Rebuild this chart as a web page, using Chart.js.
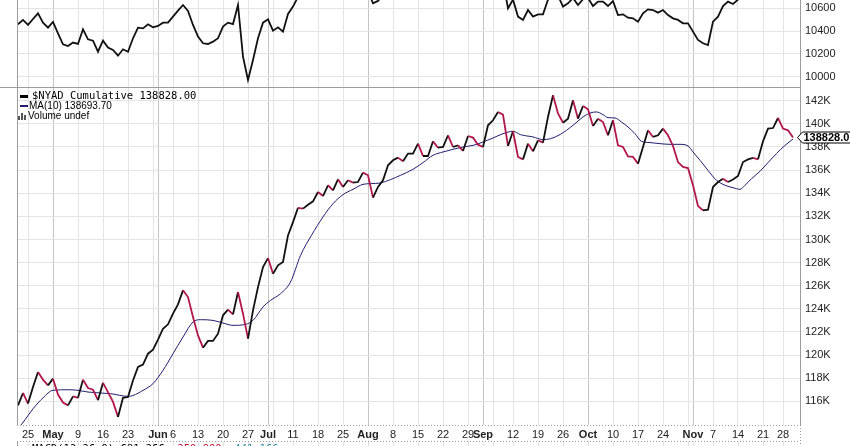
<!DOCTYPE html>
<html>
<head>
<meta charset="utf-8">
<title>$NYAD Cumulative</title>
<script src="https://cdn.jsdelivr.net/npm/chart.js@4.4.0/dist/chart.umd.min.js"></script>
<style>
  html, body { margin: 0; padding: 0; background: #fff; }
  #wrap { position: relative; width: 850px; height: 446px; overflow: hidden; }
  #chart { position: absolute; left: 0; top: 0; }
  .legend { position: absolute; left: 20px; white-space: nowrap; color: #000; }
  .mono { font-family: 'DejaVu Sans Mono', monospace; font-size: 10.5px; line-height: 12px; }
  .sans { font-family: 'Liberation Sans', Arial, sans-serif; font-size: 10px; line-height: 11px; }
  .mark { display: inline-block; width: 8px; vertical-align: middle; }
  .bars { display: inline-block; width: 9px; height: 7px; margin-left: -2px; margin-right: 1px; position: relative; vertical-align: -1px; }
  .bars i { position: absolute; bottom: 0; width: 2px; background: #555; }
</style>
</head>
<body>
<div id="wrap">
  <canvas id="chart" width="850" height="446"></canvas>
  <div class="legend mono" style="top:89px"><span class="mark" style="background:#000;height:3px;margin-right:4px"></span>$NYAD Cumulative 138828.00</div>
  <div class="legend sans" style="top:99.5px"><span class="mark" style="background:#1f1f70;height:2px;margin-right:1px"></span>MA(10) 138693.70</div>
  <div class="legend sans" style="top:110px"><span class="bars"><i style="left:0;height:4px"></i><i style="left:3px;height:7px"></i><i style="left:6px;height:5px"></i></span>Volume undef</div>
  <div class="legend mono" style="top:442px;left:17px"><span class="mark" style="background:#000;height:3px;margin-right:7px"></span>MACD(12,26,9) 681.266, <span style="color:#c0102a">259.900</span>, <span style="color:#3a8fa3">441.166</span></div>
</div>
<script>
// trading-day index: 0 = Apr 25, one step per session
var firstDay = -2;

// upper panel (price), one value per session
var priceValues = [
  10460, 10498, 10454, 10506, 10556, 10474, 10430, 10480, 10380, 10284,
  10269, 10299, 10287, 10416, 10328, 10316, 10219, 10316, 10255, 10234,
  10184, 10240, 10219, 10337, 10430, 10424, 10460, 10433, 10445, 10474,
  10474, 10527, 10580, 10629, 10577, 10454, 10351, 10293, 10287, 10307,
  10337, 10439, 10474, 10462, 10629, 10176, 9971, 10146, 10337, 10474,
  10503, 10404, 10433, 10395, 10550, 10615, 10700, 10710, 10730, 10750,
  10790, 10770, 10810, 10790, 10830, 10800, 10830, 10810, 10790, 10800,
  10750, 10644, 10665, 10720, 10790, 10810, 10820, 10800, 10830, 10830,
  10860, 10820, 10820, 10860, 10840, 10840, 10870, 10830, 10840, 10820,
  10860, 10850, 10830, 10820, 10850, 10870, 10880, 10840, 10600, 10676,
  10527, 10498, 10585, 10527, 10547, 10547, 10676, 10760, 10712, 10615,
  10644, 10690, 10629, 10680, 10690, 10620, 10659, 10659, 10620, 10664,
  10541, 10547, 10518, 10512, 10483, 10556, 10591, 10585, 10562, 10585,
  10541, 10512, 10498, 10468, 10468, 10395, 10322, 10293, 10278, 10483,
  10527, 10620, 10659, 10638, 10676, 10720, 10730, 10735, 10730, 10780,
  10820, 10825, 10850, 10820, 10815, 10795
];

// $NYAD cumulative, thousands
var nyadValues = [
  115.65, 116.72, 115.8, 117.24, 118.54, 117.87, 117.38, 117.96, 116.58, 115.9,
  115.65, 116.43, 116.3, 117.87, 117.15, 117.0, 116.1, 117.6, 116.8, 115.95,
  114.65, 116.3, 116.37, 117.8, 118.97, 119.17, 120.12, 120.47, 121.33, 122.28,
  122.66, 123.58, 124.39, 125.6, 125.02, 123.29, 121.7, 120.64, 121.22, 121.22,
  121.85, 123.44, 123.93, 123.52, 125.45, 123.58, 121.42, 123.87, 125.88, 127.61,
  128.39, 127.04, 127.76, 128.05, 130.35, 131.5, 132.74, 132.67, 133.01, 133.3,
  134.11, 133.76, 134.69, 134.25, 135.2, 134.54, 135.12, 134.92, 134.97, 135.78,
  135.55, 133.62, 134.54, 135.12, 136.42, 136.85, 137.08, 136.76, 137.43, 137.43,
  138.29, 137.22, 137.22, 138.49, 137.94, 138.0, 139.01, 138.0, 138.14, 137.66,
  138.95, 138.81, 138.2, 138.0, 139.88, 140.31, 141.03, 140.8, 138.09, 139.36,
  137.14, 136.93, 138.29, 137.63, 138.58, 138.38, 140.6, 142.47, 140.9, 140.1,
  140.45, 142.04, 140.45, 141.55, 141.26, 139.82, 140.45, 140.16, 139.01, 140.31,
  138.14, 138.0, 137.19, 137.14, 136.56, 138.0, 139.44, 138.87, 139.01, 139.59,
  139.01, 138.09, 136.7, 136.27, 136.18, 134.69, 132.9, 132.52, 132.58, 134.54,
  134.97, 135.26, 134.97, 135.18, 135.49, 136.7, 136.93, 137.05, 136.93, 138.49,
  139.59, 139.64, 140.51, 139.59, 139.44, 138.828
];

// MA(10) at these sessions
var maDays = [
  -2, -0.6, 1, 3, 5, 8, 10, 12, 16.5, 20,
  21, 23, 25, 27, 29, 31, 33, 34.5, 37, 39,
  41, 43.5, 45, 47, 48.5, 50.5, 52.5, 54.5, 56.7, 59,
  61, 63, 65, 67, 68.5, 70.5, 72.5, 74.5, 77, 79,
  81, 83, 85, 87, 89, 91, 93, 95, 97, 98.5,
  101, 103, 104.5, 106.5, 107.7, 109.4, 111, 112.4, 113.7, 115,
  116, 117.4, 118.7, 120, 121.4, 122.7, 124.4, 126.4, 128.4, 130.4,
  132, 133, 134.4, 136, 137.7, 139.4, 141, 142.4, 143.4, 144.7,
  146.4, 148, 149.7, 151.4, 153
];
var maValues = [
  113.6, 114.4, 115.35, 116.3, 116.95, 117.0, 116.95, 116.8, 116.66, 116.43,
  116.5, 116.95, 117.53, 118.68, 120.12, 121.56, 122.86, 123.06, 123.0, 122.77,
  122.57, 122.66, 123.0, 124.16, 124.73, 125.31, 126.32, 128.62, 130.36, 131.95,
  133.1, 133.88, 134.34, 134.77, 134.83, 134.89, 135.18, 135.55, 136.07, 136.65,
  137.28, 137.57, 137.8, 138.0, 138.14, 138.43, 138.78, 139.15, 139.36, 139.07,
  138.87, 138.64, 138.72, 139.1, 139.44, 140.02, 140.6, 140.94, 141.03, 140.8,
  140.54, 140.51, 140.16, 139.73, 139.15, 138.49, 138.38, 138.29, 138.23, 138.23,
  138.09, 137.57, 136.85, 135.98, 135.12, 134.69, 134.48, 134.34, 134.69, 135.26,
  135.9, 136.65, 137.43, 138.14, 138.69
];

// date axis: first session of each week / month
var weekDays = [0, 5, 10, 15, 20, 25, 26, 29, 34, 39, 44, 48, 49, 53, 58, 63, 68, 73, 78, 83,
                88, 91, 93, 97, 102, 107, 112, 117, 122, 127, 132, 133, 137, 142, 147, 151];
var weekLabels = ['25', 'May', '9', '16', '23', '', 'Jun', '6', '13', '20', '27', 'Jul', '', '11', '18', '25', 'Aug', '8', '15', '22',
                  '29', 'Sep', '', '12', '19', '26', 'Oct', '10', '17', '24', '', 'Nov', '7', '14', '21', '28'];
var monthDays = [5, 26, 48, 68, 91, 112, 133];

var priceTicks = [10000, 10200, 10400, 10600];
var nyadTicks = [116, 118, 120, 122, 124, 126, 128, 130, 132, 134, 136, 138, 140, 142];

var sans = "'Liberation Sans', Arial, sans-serif";
var black = '#111111';
var red = '#b3164a';
var navy = '#1f1f70';

function toPoints(values) {
    return values.map(function (v, i) { return { x: firstDay + i, y: v }; });
}

function isMonth(ctx) {
    return ctx.tick && monthDays.indexOf(ctx.tick.value) !== -1;
}

// frame lines, date strip, MACD stub and the last-value tag
var framePlugin = {
    id: 'frame',
    afterDraw: function (chart) {
        var ctx = chart.ctx;
        var a = chart.chartArea;
        var split = Math.round(chart.scales.yTop.bottom) + 0.5;
        var macdTop = a.bottom + 16.5;
        ctx.save();
        ctx.lineWidth = 1;

        // MACD panel grid stubs
        ctx.strokeStyle = '#e2e2e2';
        ctx.beginPath();
        weekDays.forEach(function (d) {
            var x = Math.round(chart.scales.x.getPixelForValue(d)) + 0.5;
            ctx.moveTo(x, macdTop);
            ctx.lineTo(x, chart.height);
        });
        ctx.stroke();

        ctx.strokeStyle = '#9c9c9c';
        ctx.beginPath();
        ctx.moveTo(0, split); ctx.lineTo(a.right, split);
        ctx.moveTo(a.left + 0.5, 0); ctx.lineTo(a.left + 0.5, a.bottom);
        ctx.moveTo(a.left + 0.5, macdTop); ctx.lineTo(a.left + 0.5, chart.height);
        ctx.moveTo(a.right + 0.5, 0); ctx.lineTo(a.right + 0.5, a.bottom);
        ctx.stroke();

        ctx.setLineDash([1, 2]);
        ctx.beginPath();
        ctx.moveTo(a.left, a.bottom + 0.5); ctx.lineTo(a.right, a.bottom + 0.5);
        ctx.moveTo(a.left, macdTop); ctx.lineTo(a.right, macdTop);
        ctx.moveTo(a.right + 0.5, a.bottom); ctx.lineTo(a.right + 0.5, chart.height);
        ctx.stroke();
        ctx.setLineDash([]);

        // last value tag
        var last = nyadValues[nyadValues.length - 1];
        var y = Math.round(chart.scales.yMid.getPixelForValue(last)) + 0.5;
        var x = a.right - 2.5;
        ctx.beginPath();
        ctx.moveTo(x, y);
        ctx.lineTo(x + 5, y - 5.5);
        ctx.lineTo(x + 70, y - 5.5);
        ctx.lineTo(x + 70, y + 5.5);
        ctx.lineTo(x + 5, y + 5.5);
        ctx.closePath();
        ctx.fillStyle = '#ffffff';
        ctx.fill();
        ctx.strokeStyle = '#000000';
        ctx.stroke();
        ctx.fillStyle = '#000000';
        ctx.font = 'bold 11px ' + sans;
        ctx.textBaseline = 'middle';
        ctx.fillText((last * 1000).toFixed(2), x + 6, y + 0.5);
        ctx.restore();
    }
};

new Chart(document.getElementById('chart'), {
    type: 'line',
    data: {
        datasets: [{
            label: '$NYAD Cumulative',
            data: toPoints(nyadValues),
            yAxisID: 'yMid',
            borderColor: black,
            borderWidth: 1.8,
            pointRadius: 0,
            segment: {
                borderColor: function (ctx) { return ctx.p1.parsed.y < ctx.p0.parsed.y ? red : black; }
            }
        }, {
            label: 'MA(10)',
            data: maDays.map(function (d, i) { return { x: d, y: maValues[i] }; }),
            yAxisID: 'yMid',
            borderColor: navy,
            borderWidth: 1,
            pointRadius: 0,
            cubicInterpolationMode: 'monotone'
        }, {
            label: 'Price',
            data: toPoints(priceValues),
            yAxisID: 'yTop',
            borderColor: black,
            borderWidth: 1.8,
            pointRadius: 0
        }]
    },
    options: {
        responsive: false,
        animation: false,
        events: [],
        layout: { padding: { left: 17, right: 0, top: 0, bottom: 0 } },
        plugins: {
            legend: { display: false },
            tooltip: { enabled: false }
        },
        scales: {
            x: {
                type: 'linear',
                position: 'bottom',
                min: -2.2,
                max: 154.4,
                bounds: 'data',
                afterBuildTicks: function (scale) {
                    scale.ticks = weekDays.map(function (d) { return { value: d }; });
                },
                afterFit: function (scale) {
                    scale.height = 21;
                    scale.paddingLeft = 0;
                    scale.paddingRight = 0;
                },
                grid: {
                    drawTicks: false,
                    color: function (ctx) { return isMonth(ctx) ? '#c4c4c4' : '#e4e4e4'; }
                },
                border: { display: false },
                ticks: {
                    padding: 3,
                    maxRotation: 0,
                    minRotation: 0,
                    autoSkip: false,
                    color: '#222222',
                    font: function (ctx) {
                        return { family: sans, size: 11, weight: isMonth(ctx) ? 'bold' : 'normal' };
                    },
                    callback: function (value) { return weekLabels[weekDays.indexOf(value)]; }
                }
            },
            yTop: {
                type: 'linear',
                position: 'right',
                stack: 'panels',
                stackWeight: 87,
                min: 9909,
                max: 10673,
                bounds: 'data',
                afterBuildTicks: function (scale) {
                    scale.ticks = priceTicks.map(function (v) { return { value: v }; });
                },
                afterFit: function (scale) {
                    scale.width = 50;
                    scale.paddingTop = 0;
                    scale.paddingBottom = 0;
                },
                grid: { drawTicks: false, color: '#e4e4e4' },
                border: { display: false },
                ticks: {
                    padding: 5,
                    autoSkip: false,
                    color: '#222222',
                    font: { family: sans, size: 11 },
                    callback: function (value) { return String(value); }
                }
            },
            yMid: {
                type: 'linear',
                position: 'right',
                stack: 'panels',
                stackWeight: 338,
                min: 113.95,
                max: 143.19,
                bounds: 'data',
                afterBuildTicks: function (scale) {
                    scale.ticks = nyadTicks.map(function (v) { return { value: v }; });
                },
                afterFit: function (scale) {
                    scale.width = 50;
                    scale.paddingTop = 0;
                    scale.paddingBottom = 0;
                },
                grid: { drawTicks: false, color: '#e4e4e4' },
                border: { display: false },
                ticks: {
                    padding: 5,
                    autoSkip: false,
                    color: '#222222',
                    font: { family: sans, size: 11 },
                    callback: function (value) { return value + 'K'; }
                }
            }
        }
    },
    plugins: [framePlugin]
});
</script>
</body>
</html>
